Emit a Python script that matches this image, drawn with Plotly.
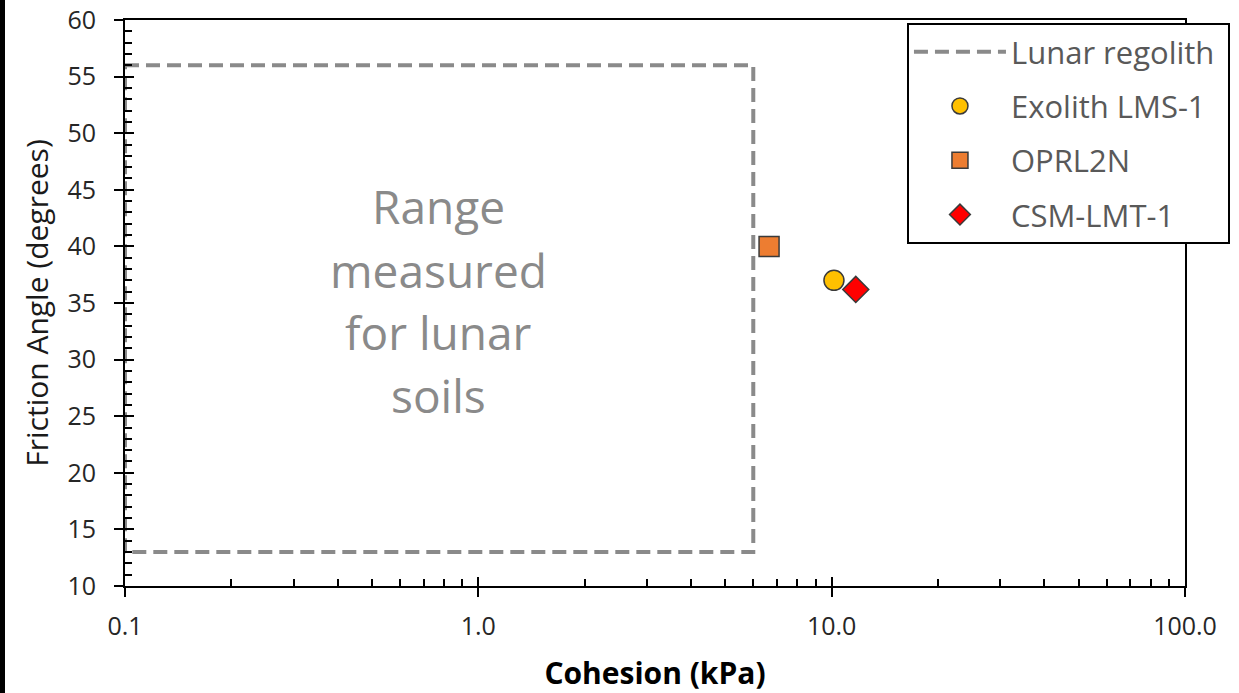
import plotly.graph_objects as go

# ---- data ----
regolith_cohesion_range = [0.1, 6.0]     # kPa
regolith_friction_range = [13.0, 56.0]   # degrees

sample_names = ["Exolith LMS-1", "OPRL2N", "CSM-LMT-1"]
sample_cohesion = [10.15, 6.65, 11.7]
sample_friction = [37.0, 40.0, 36.2]
sample_symbols = ["circle", "square", "diamond"]
sample_colors = ["#FFC000", "#ED7D31", "#FF0000"]
sample_sizes = [20, 20, 20]

x_major = [0.1, 1, 10, 100]
x_major_text = ["0.1", "1.0", "10.0", "100.0"]
x_minor = [m * d for d in (0.1, 1, 10) for m in range(2, 10)]
y_minor = [v for v in range(10, 61) if v % 5 != 0]

range_text_lines = ["Range", "measured", "for lunar", "soils"]

FONT = "Open Sans"
GRAY = "#8a8a8a"

fig = go.Figure()

rx0, rx1 = regolith_cohesion_range
ry0, ry1 = regolith_friction_range
fig.add_trace(go.Scatter(
    x=[rx0, rx1, rx1, rx0, rx0], y=[ry1, ry1, ry0, ry0, ry1],
    mode="lines", name="Lunar regolith\u00a0",
    line=dict(color=GRAY, width=4, dash="14px,7px"),
    legendgroup="g0",
))
for i, n in enumerate(sample_names):
    fig.add_trace(go.Scatter(
        x=[sample_cohesion[i]], y=[sample_friction[i]], mode="markers", name=n,
        marker=dict(symbol=sample_symbols[i], color=sample_colors[i], size=sample_sizes[i],
                    line=dict(color="#3a3a3a", width=1.5)),
        legendgroup=f"g{i+1}",
    ))
# invisible trace to hold overlay axes
fig.add_trace(go.Scatter(x=[None], y=[None], xaxis="x2", yaxis="y2", showlegend=False, hoverinfo="skip"))

# range text annotations
line_y = [43.55, 37.95, 32.4, 26.9]
for t, yv in zip(range_text_lines, line_y):
    fig.add_annotation(x=-0.114, y=yv, xref="x", yref="y", text=t, showarrow=False,
                       font=dict(family=FONT, size=46, color=GRAY), xanchor="center", yanchor="middle")

tickfont = dict(family=FONT, size=25, color="#262626")
fig.update_layout(
    width=1239, height=693,
    margin=dict(l=125, r=54, t=20, b=107, autoexpand=False),
    paper_bgcolor="white", plot_bgcolor="white",
    showlegend=True,
    xaxis=dict(type="log", range=[-1, 2], tickmode="array", tickvals=x_major, ticktext=x_major_text,
               ticks="outside", ticklen=9, tickwidth=2, tickcolor="black",
               minor=dict(ticks="inside", ticklen=7, tickwidth=2, tickcolor="black", tickmode="array", tickvals=x_minor, showgrid=False),
               showline=True, linewidth=2, linecolor="black", mirror=True, automargin=False,
               showgrid=False, zeroline=False, tickfont=tickfont, ticklabelstandoff=8,
               title=dict(text="<b>Cohesion (kPa)</b>", font=dict(family=FONT, size=30, color="black"), standoff=25)),
    yaxis=dict(range=[10, 60], tickmode="linear", tick0=10, dtick=5,
               ticks="outside", ticklen=9, tickwidth=2, tickcolor="black",
               minor=dict(ticks="inside", ticklen=7, tickwidth=2, tickcolor="black", tickmode="array", tickvals=y_minor, showgrid=False),
               showline=True, linewidth=2, linecolor="black", mirror=True, automargin=False,
               showgrid=False, zeroline=False, tickfont=tickfont, ticklabelstandoff=13,
               title=dict(text="Friction Angle (degrees)", font=dict(family=FONT, size=30, color="#1a1a1a"), standoff=10)),
    xaxis2=dict(type="log", range=[-1, 2], overlaying="x", anchor="y2", side="bottom", automargin=False,
                tickmode="array", tickvals=x_major, ticks="inside", ticklen=9, tickwidth=2, tickcolor="black",
                showticklabels=False, showline=False, showgrid=False, zeroline=False),
    yaxis2=dict(range=[10, 60], overlaying="y", anchor="x2", side="left", automargin=False,
                tickmode="linear", tick0=10, dtick=5, ticks="inside", ticklen=9, tickwidth=2, tickcolor="black",
                showticklabels=False, showline=False, showgrid=False, zeroline=False),
    legend=dict(x=0.7377, y=0.9947, xanchor="left", yanchor="top",
                bgcolor="white", bordercolor="black", borderwidth=2,
                font=dict(family=FONT, size=31, color="#595959"),
                traceorder="grouped", tracegroupgap=11, itemwidth=92),
)

# black strip at left edge of the image
fig.add_shape(type="rect", xref="paper", yref="paper",
              x0=-125/1060, x1=-120/1060, y0=-107/566 - 0.01, y1=1 + 20/566 + 0.01,
              fillcolor="black", line=dict(width=0), layer="above")

fig.write_html("out.html", config={"displayModeBar": False},
               post_script="document.body.style.margin='0';document.body.style.overflow='hidden';")
